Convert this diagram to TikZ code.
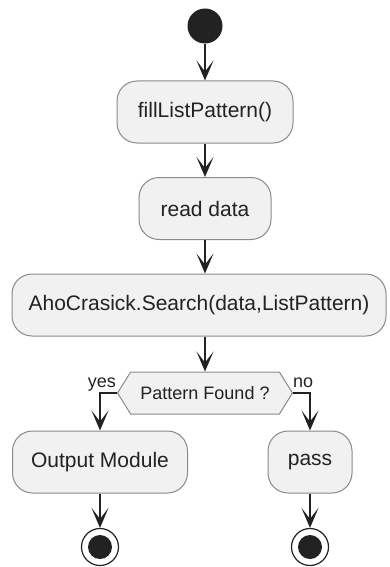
\documentclass[tikz,border=0pt]{standalone}
\usepackage{fontspec}
\setmainfont{Liberation Sans}
\usetikzlibrary{arrows.meta,shapes.symbols}
\definecolor{boxfill}{HTML}{F1F1F1}
\definecolor{boxline}{HTML}{8A8A8A}
\definecolor{ink}{HTML}{222222}
\tikzset{
  x=1pt, y=-1pt,
  flow/.style={draw=ink, line width=1.4pt,
    -{Stealth[length=20pt,width=17pt,inset=11pt]}},
  action/.style={draw=boxline, line width=1pt, fill=boxfill,
    rounded corners=20pt, minimum height=62pt, inner sep=0pt,
    text=ink, font=\fontsize{21}{25}\selectfont},
  choice/.style={draw=boxline, line width=1pt, fill=boxfill,
    shape=signal, signal to=west and east, signal pointer angle=116,
    minimum height=42pt, minimum width=175pt, inner sep=0pt,
    text=ink, font=\fontsize{18}{22}\selectfont},
  guard/.style={text=ink, font=\fontsize{18}{22}\selectfont, inner sep=0pt},
  startdot/.style={circle, fill=ink, minimum size=35pt, inner sep=0pt},
  stopring/.style={circle, draw=ink, line width=1.2pt, fill=white,
    minimum size=37pt, inner sep=0pt,
    path picture={\fill[ink] (path picture bounding box.center) circle (12pt);}},
}
\begin{document}
\begin{tikzpicture}
\useasboundingbox (0,0) rectangle (389,567);

\node[startdot] (start) at (205,26) {};
\node[action, minimum width=176pt] (fill) at (205,112) {fillListPattern()};
\node[action, minimum width=132pt] (read) at (205,208.5) {read data};
\node[action, minimum width=374pt] (search) at (199,305) {AhoCrasick.Search(data,ListPattern)};
\node[choice] (found) at (205,393) {Pattern Found ?};
\node[action, minimum width=175pt] (output) at (100,462) {Output Module};
\node[action, minimum width=84pt] (pass) at (310,462) {pass};
\node[stopring] (stopA) at (100,547) {};
\node[stopring] (stopB) at (310,547) {};

\node[guard, anchor=base east] (yes) at (116,387) {yes};
\node[guard, anchor=base west] (no) at (293,387) {no};

\draw[flow] (start) -- (fill);
\draw[flow] (fill) -- (read);
\draw[flow] (read.south) -- (read.south |- search.north);
\draw[flow] (read.south |- search.south) -- (found.north);
\draw[flow] (found.west) -| (output.north);
\draw[flow] (found.east) -| (pass.north);
\draw[flow] (output) -- (stopA);
\draw[flow] (pass) -- (stopB);
\end{tikzpicture}
\end{document}
